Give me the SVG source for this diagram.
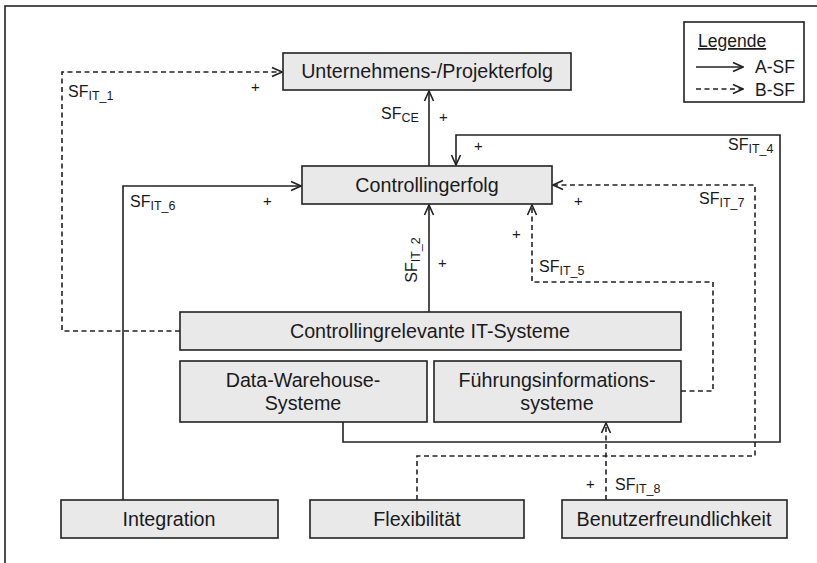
<svg xmlns="http://www.w3.org/2000/svg" width="817" height="563" viewBox="0 0 817 563">
<defs>
<marker id="arr" markerUnits="userSpaceOnUse" markerWidth="12" markerHeight="12" viewBox="0 0 12 12" refX="11" refY="6" orient="auto">
<path d="M1,1.5 L11,6 L1,10.5" fill="none" stroke="#222" stroke-width="1.6"/>
</marker>
</defs>
<style>
.box{fill:#e9e9e9;stroke:#222;stroke-width:1.6}
.t{font-family:"Liberation Sans",Arial,sans-serif;font-size:19.7px;fill:#1a1a1a;text-anchor:middle}
.sf{font-family:"Liberation Sans",Arial,sans-serif;font-size:16px;fill:#1a1a1a}
.sub{font-size:12.5px}
.p{font-family:"Liberation Sans",Arial,sans-serif;font-size:15px;fill:#1a1a1a}
.a{fill:none;stroke:#222;stroke-width:1.6}
.d{fill:none;stroke:#222;stroke-width:1.6;stroke-dasharray:5,3.5}
.lg{font-family:"Liberation Sans",Arial,sans-serif;font-size:17.5px;fill:#1a1a1a}
</style>
<rect width="817" height="563" fill="#fff"/>
<rect x="5" y="6" width="840" height="600" fill="none" stroke="#222" stroke-width="1.6"/>

<g id="legend">
<rect x="684" y="22" width="120" height="80" fill="#fff" stroke="#222" stroke-width="1.6"/>
<text class="lg" x="698" y="47" text-decoration="underline">Legende</text>
<line class="a" x1="696" y1="67" x2="743" y2="67" marker-end="url(#arr)"/>
<text class="lg" x="755" y="73">A-SF</text>
<line class="d" x1="696" y1="89" x2="743" y2="89" marker-end="url(#arr)"/>
<text class="lg" x="755" y="96">B-SF</text>
</g>

<g id="connectors">
<!-- SF_IT_1 -->
<polyline class="d" points="180,331 62,331 62,72 282,72" marker-end="url(#arr)"/>
<!-- SF_CE -->
<line class="a" x1="429" y1="166" x2="429" y2="91" marker-end="url(#arr)"/>
<!-- SF_IT_4 -->
<polyline class="a" points="343,422 343,442 780,442 780,135 456,135 456,165" marker-end="url(#arr)"/>
<!-- SF_IT_6 -->
<polyline class="a" points="123,500 123,186 301,186" marker-end="url(#arr)"/>
<!-- SF_IT_7 -->
<polyline class="d" points="417,500 417,456 755,456 755,185 553,185" marker-end="url(#arr)"/>
<!-- SF_IT_2 -->
<line class="a" x1="429" y1="312" x2="429" y2="205" marker-end="url(#arr)"/>
<!-- SF_IT_5 -->
<polyline class="d" points="681,391 713,391 713,282 532,282 532,205" marker-end="url(#arr)"/>
<!-- SF_IT_8 -->
<line class="d" x1="606" y1="500" x2="606" y2="423" marker-end="url(#arr)"/>

<text class="sf" x="68" y="97">SF<tspan class="sub" dy="3">IT_1</tspan></text>
<text class="p" x="251" y="92">+</text>
<text class="sf" x="381" y="119">SF<tspan class="sub" dy="3">CE</tspan></text>
<text class="p" x="439" y="122">+</text>
<text class="sf" x="728" y="150">SF<tspan class="sub" dy="3">IT_4</tspan></text>
<text class="p" x="474" y="151">+</text>
<text class="sf" x="130" y="207">SF<tspan class="sub" dy="3">IT_6</tspan></text>
<text class="p" x="263" y="206">+</text>
<text class="sf" x="699" y="204">SF<tspan class="sub" dy="3">IT_7</tspan></text>
<text class="p" x="574" y="206">+</text>
<g transform="translate(417,260) rotate(-90)"><text class="sf" x="0" y="0" text-anchor="middle">SF<tspan class="sub" dy="3">IT_2</tspan></text></g>
<text class="p" x="438" y="268">+</text>
<text class="sf" x="539" y="272">SF<tspan class="sub" dy="3">IT_5</tspan></text>
<text class="p" x="512" y="239">+</text>
<text class="sf" x="615" y="490">SF<tspan class="sub" dy="3">IT_8</tspan></text>
<text class="p" x="586" y="489">+</text>
</g>

<g id="unternehmen">
<rect class="box" x="283" y="53" width="288" height="37"/>
<text class="t" x="427" y="78">Unternehmens-/Projekterfolg</text>
</g>
<g id="controllingerfolg">
<rect class="box" x="302" y="166" width="250" height="38"/>
<text class="t" x="427" y="192">Controllingerfolg</text>
</g>
<g id="it-systeme">
<rect class="box" x="180" y="312" width="501" height="38"/>
<text class="t" x="430" y="338">Controllingrelevante IT-Systeme</text>
</g>
<g id="dwh">
<rect class="box" x="180" y="361" width="247" height="61"/>
<text class="t" x="303" y="387">Data-Warehouse-</text>
<text class="t" x="303" y="410">Systeme</text>
</g>
<g id="fis">
<rect class="box" x="434" y="361" width="247" height="61"/>
<text class="t" x="557" y="387">Führungsinformations-</text>
<text class="t" x="557" y="410">systeme</text>
</g>
<g id="integration">
<rect class="box" x="61" y="500" width="217" height="38"/>
<text class="t" x="169" y="526">Integration</text>
</g>
<g id="flexibilitaet">
<rect class="box" x="310" y="500" width="214" height="38"/>
<text class="t" x="417" y="526">Flexibilität</text>
</g>
<g id="benutzer">
<rect class="box" x="562" y="500" width="225" height="38"/>
<text class="t" x="674" y="526">Benutzerfreundlichkeit</text>
</g>
</svg>
